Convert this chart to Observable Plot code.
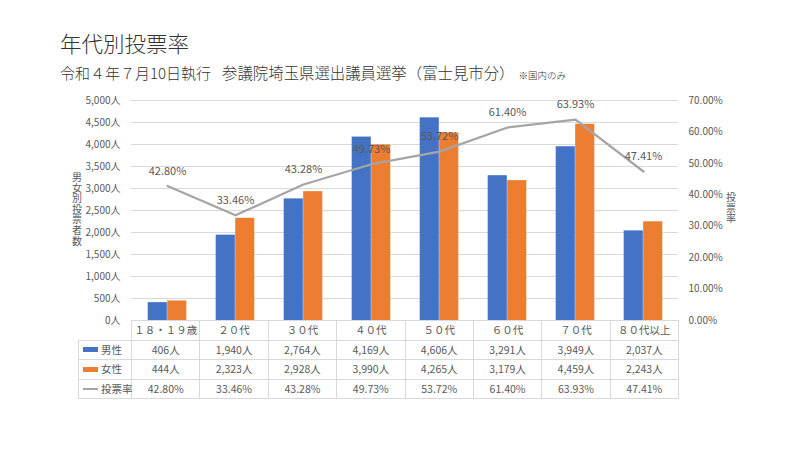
<!DOCTYPE html>
<html><head><meta charset="utf-8">
<script src="https://cdn.jsdelivr.net/npm/d3@7"></script>
<script src="https://cdn.jsdelivr.net/npm/@observablehq/plot@0.6"></script>
<style>
body{margin:0;background:#fff;font-family:"Noto Sans CJK JP","Noto Sans",sans-serif;}
#wrap{position:relative;width:800px;height:450px;overflow:hidden;background:#fff;}
#title{position:absolute;left:60px;top:28px;font-size:21.5px;font-weight:300;line-height:30px;color:#333;white-space:nowrap;}
#sub{position:absolute;left:60px;top:61px;font-size:15px;font-weight:300;line-height:22px;color:#333;white-space:nowrap;}
#sub .s2{margin-left:11px;font-size:15.4px;}
#sub .s3{font-size:9.5px;margin-left:4px;}
#chart{position:absolute;left:0;top:80px;}
.vlab{position:absolute;width:10px;font-size:10px;line-height:10.6px;text-align:center;word-break:break-all;color:#595959;}
#ylab{left:72px;top:172px;}
#y2lab{left:726px;top:192px;}
#tbl{position:absolute;left:78px;top:320px;border-collapse:collapse;table-layout:fixed;width:600px;font-size:10.5px;color:#595959;}
#tbl td{border:1px solid #d9d9d9;height:18.5px;padding:0;text-align:center;white-space:nowrap;line-height:14px;}
#tbl td.corner{border-top:none;border-left:none;}
#tbl td.leg{text-align:left;padding-left:4px;}
.sw{display:inline-block;width:15px;height:5px;vertical-align:middle;margin-right:3px;position:relative;top:-1px;}
.ln{display:inline-block;width:15px;height:2px;background:#a5a5a5;vertical-align:middle;margin-right:3px;position:relative;top:-1px;}
</style></head><body>
<div id="wrap">
<div id="title">年代別投票率</div>
<div id="sub"><span>令和４年７月10日執行</span><span class="s2">参議院埼玉県選出議員選挙（富士見市分）</span><span class="s3">※国内のみ</span></div>
<div id="chart"></div>
<div id="ylab" class="vlab">男女別投票者数</div>
<div id="y2lab" class="vlab">投票率</div>
<table id="tbl"></table>
</div>
<script>
const ages = ["１８・１９歳","２０代","３０代","４０代","５０代","６０代","７０代","８０代以上"];
const men = [406,1940,2764,4169,4606,3291,3949,2037];
const women = [444,2323,2928,3990,4265,3179,4459,2243];
const rate = [42.80,33.46,43.28,49.73,53.72,61.40,63.93,47.41];
const leftTicks = [0,500,1000,1500,2000,2500,3000,3500,4000,4500,5000];
const rightTicks = [0,10,20,30,40,50,60,70];
const seriesNames = ["男性","女性","投票率"];
const colors = {"男性":"#4472c4","女性":"#ed7d31","投票率":"#a5a5a5"};

const yMax = 5000, rMax = 70;
const toY = r => r * yMax / rMax;
const rows = ages.map((a,i)=>({age:a, men:men[i], women:women[i], rate:rate[i]}));
const band = 547/8, bw = 19.5, off = (band - 2*bw)/2;
const fmt = d3.format(",");

const chart = Plot.plot({
  width: 800, height: 250,
  marginLeft: 131, marginRight: 122, marginTop: 20, marginBottom: 10,
  style: {fontFamily: '"Noto Sans CJK JP","Noto Sans",sans-serif', fontSize: "10px", color: "#595959", background: "transparent"},
  x: {type: "band", domain: ages, padding: 0, axis: null},
  y: {domain: [0, yMax], axis: null},
  marks: [
    Plot.gridY(leftTicks, {stroke: "#d9d9d9", strokeOpacity: 1}),
    Plot.barY(rows, {x: "age", y: "men", fill: colors["男性"], insetLeft: off, insetRight: band - off - bw}),
    Plot.barY(rows, {x: "age", y: "women", fill: colors["女性"], insetLeft: off + bw, insetRight: off}),
    Plot.line(rows, {x: "age", y: d => toY(d.rate), stroke: colors["投票率"], strokeWidth: 2.25}),
    Plot.text(rows, {x: "age", y: d => toY(d.rate), text: d => d.rate.toFixed(2) + "%", dy: -15, fill: "#595959", fontSize: 11}),
    Plot.axisY(leftTicks, {anchor: "left", tickSize: 0, tickPadding: 11, fontSize: 10, tickFormat: d => fmt(d) + "人"}),
    Plot.axisY(rightTicks.map(toY), {anchor: "right", tickSize: 0, tickPadding: 10, fontSize: 10, tickFormat: d => (Math.round(d * rMax / yMax)).toFixed(2) + "%"})
  ]
});
document.getElementById("chart").appendChild(chart);

// data table
const tbl = d3.select("#tbl");
const cg = tbl.append("colgroup");
cg.append("col").style("width", "53px");
ages.forEach(() => cg.append("col").style("width", band + "px"));
const hr = tbl.append("tr");
hr.append("td").attr("class", "corner");
ages.forEach(a => hr.append("td").text(a));
const tableRows = [
  {name: "男性", vals: men.map(v => fmt(v) + "人")},
  {name: "女性", vals: women.map(v => fmt(v) + "人")},
  {name: "投票率", vals: rate.map(v => v.toFixed(2) + "%")}
];
tableRows.forEach(r => {
  const tr = tbl.append("tr");
  const lc = tr.append("td").attr("class", "leg");
  if (r.name === "投票率") lc.append("span").attr("class", "ln");
  else lc.append("span").attr("class", "sw").style("background", colors[r.name]);
  lc.append("span").text(r.name);
  r.vals.forEach(v => tr.append("td").text(v));
});
</script>
</body></html>
